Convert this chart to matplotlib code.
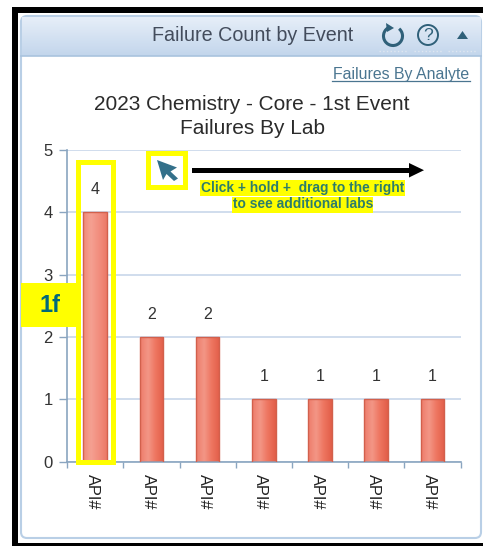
import numpy as np
import matplotlib
matplotlib.use('Agg')
import matplotlib.pyplot as plt
from matplotlib.colors import LinearSegmentedColormap
from matplotlib.patches import Rectangle, FancyBboxPatch, Polygon, Circle, Arc
from matplotlib.transforms import ScaledTranslation

plt.rcParams['font.family'] = ['Liberation Sans', 'DejaVu Sans']

# data
labs = ['API#', 'API#', 'API#', 'API#', 'API#', 'API#', 'API#']
failures = [4, 2, 2, 1, 1, 1, 1]
y_ticks = [0, 1, 2, 3, 4, 5]

W, H = 483, 546
fig = plt.figure(figsize=(W / 100, H / 100), dpi=100, facecolor='white')

# overlay in pixel coordinates for the screenshot furniture
bg = fig.add_axes([0, 0, 1, 1], zorder=0)
bg.set_xlim(0, W)
bg.set_ylim(H, 0)
bg.axis('off')

# black frame
bg.add_patch(Rectangle((12, 7), W - 12, H - 7, fc='black', ec='none'))
bg.add_patch(Rectangle((18, 13), W - 18, 530, fc='white', ec='none'))

# panel
bg.add_patch(FancyBboxPatch((21, 16), 460, 522, boxstyle='round,pad=0,rounding_size=6',
                            fc='white', ec='#b9cfe6', lw=1.5))
# header gradient
header = LinearSegmentedColormap.from_list('header', ['#e6eef8', '#c3d6ec'])
grad = np.linspace(0, 1, 40).reshape(-1, 1)
bg.imshow(grad, cmap=header, extent=(22, 481, 56, 17), aspect='auto', zorder=1)
bg.set_xlim(0, W)
bg.set_ylim(H, 0)
bg.plot([21, 481], [56, 56], color='#a9c3de', lw=1.2, zorder=2)

bg.text(253, 35.5, 'Failure Count by Event', ha='center', va='center',
        fontsize=14.2, color='#434c5c', zorder=3)
# header icons
bg.add_patch(Arc((393, 36), 19, 19, theta1=-50, theta2=245, color='#2f6079', lw=2.2, zorder=3))
bg.add_patch(Polygon([[386, 23], [394, 28], [387, 32]], fc='#2f6079', ec='none', zorder=3))
bg.add_patch(Circle((428, 35), 10, fc='none', ec='#2f6079', lw=1.4, zorder=3))
bg.text(428, 35.5, '?', ha='center', va='center', fontsize=12.5, color='#2f6079', zorder=3)
bg.add_patch(Polygon([[457, 39], [468, 39], [462.5, 31]], fc='#2f6079', ec='none', zorder=3))
for x0, x1 in [(379, 408), (414, 443), (448, 477)]:
    bg.plot([x0, x1], [50.5, 50.5], color='#dfe7f1', lw=1, ls=':', zorder=3)

bg.text(401, 74.5, 'Failures By Analyte', ha='center', va='center',
        fontsize=11.4, color='#4a7590')
bg.plot([332, 470], [81, 81], color='#4a7590', lw=0.9)

bg.text(252, 105, '2023 Chemistry - Core - 1st Event', ha='center', va='center',
        fontsize=15, color='#2b2b2b')
bg.text(252, 128, 'Failures By Lab', ha='center', va='center',
        fontsize=15, color='#2b2b2b')

# chart axes, placed by pixel box
left, right, top, bottom = 67.2, 460.5, 150, 461.7
ax = fig.add_axes([left / W, 1 - bottom / H, (right - left) / W, (bottom - top) / H],
                  zorder=1)
ax.patch.set_alpha(0)
ax.set_xlim(-0.5, len(labs) - 0.5)
ax.set_ylim(0, 5)
ax.set_yticks(y_ticks)
ax.tick_params(axis='y', length=5.5, width=1, color='#8aa5c0', labelsize=12,
               labelcolor='#333333', pad=5)
ax.yaxis.grid(True, color='#c8d7ea', lw=1.2)
ax.set_axisbelow(True)
for s in ['top', 'right']:
    ax.spines[s].set_visible(False)
for s in ['left', 'bottom']:
    ax.spines[s].set_color('#8aa5c0')
    ax.spines[s].set_linewidth(1.2)

ax.set_xticks(range(len(labs)))
ax.set_xticklabels(labs, rotation=270, fontsize=11.8, color='#222222')
ax.tick_params(axis='x', which='major', length=0, pad=9)
shift = ScaledTranslation(-3 / 100, 0, fig.dpi_scale_trans)
for t in ax.get_xticklabels():
    t.set_transform(t.get_transform() + shift)
ax.set_xticks(np.arange(len(labs) + 1) - 0.5, minor=True)
ax.tick_params(axis='x', which='minor', length=4.5, width=1, color='#8aa5c0')

bars = ax.bar(range(len(labs)), failures, width=0.42, color='none',
              edgecolor='#d2604c', linewidth=1, zorder=3)
ax.bar_label(bars, padding=11, fontsize=11.5, color='#333333')

# horizontal shading inside each bar
red = LinearSegmentedColormap.from_list('red', ['#ee7d6b', '#f39686', '#ee7560', '#e25f49'])
pale = LinearSegmentedColormap.from_list('pale', ['#f08a79', '#f5a092', '#f28e7e', '#ec7a68'])
shade = np.linspace(0, 1, 30).reshape(1, -1)
for i, b in enumerate(bars):
    ax.imshow(shade, cmap=pale if i == 0 else red, aspect='auto', zorder=2,
              extent=(b.get_x(), b.get_x() + b.get_width(), 0, b.get_height()))
ax.set_xlim(-0.5, len(labs) - 0.5)
ax.set_ylim(0, 5)

# annotation layer on top
fg = fig.add_axes([0, 0, 1, 1], zorder=2)
fg.set_xlim(0, W)
fg.set_ylim(H, 0)
fg.axis('off')

yellow = '#ffff00'
fg.add_patch(Rectangle((78, 161.5), 35, 300, fc='none', ec=yellow, lw=3.6))
fg.add_patch(Rectangle((148, 153), 37, 34, fc='none', ec=yellow, lw=3.6))
fg.add_patch(Rectangle((21, 283), 59, 44, fc=yellow, ec='none'))
fg.text(50, 305, '1f', ha='center', va='center', fontsize=17, fontweight='bold',
        color='#00697a')

# cursor
fg.add_patch(Polygon([[157, 160], [177, 167.5], [170.5, 171.5], [178, 178.5], [174, 181],
                      [166.5, 174], [163, 180]], fc='#33708a', ec='none'))

# drag arrow
fg.add_patch(Rectangle((192, 168), 218, 4.5, fc='black', ec='none'))
fg.add_patch(Polygon([[409, 163], [424, 170.2], [409, 177.5]], fc='black', ec='none'))

fg.add_patch(Rectangle((200, 180), 205, 15.5, fc=yellow, ec='none'))
fg.add_patch(Rectangle((232, 197), 141, 15.5, fc=yellow, ec='none'))
fg.text(303, 188, 'Click + hold +  drag to the right', ha='center', va='center',
        fontsize=9.9, fontweight='bold', color='#2d7d6b')
fg.text(303, 204.5, 'to see additional labs', ha='center', va='center',
        fontsize=9.9, fontweight='bold', color='#2d7d6b')

fig.savefig('out.png', dpi=100)
